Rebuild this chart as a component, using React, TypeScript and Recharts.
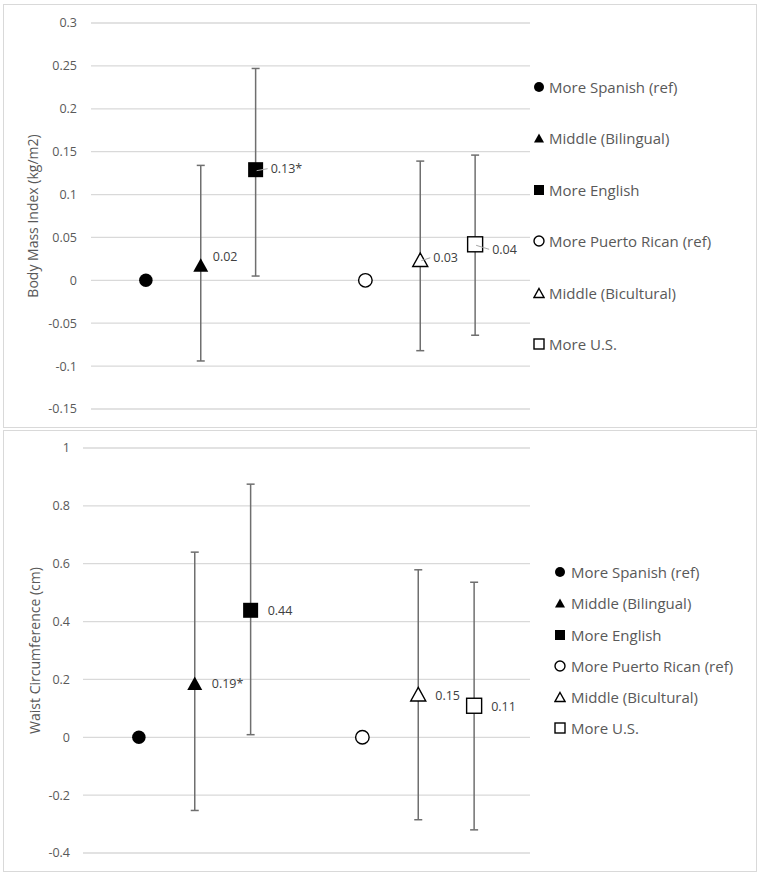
import React from "react";
import { ScatterChart, Scatter, XAxis, YAxis, CartesianGrid, ErrorBar, Legend } from "recharts";

// ---------- data ----------
const categories = [
  "More Spanish (ref)",
  "Middle (Bilingual)",
  "More English",
  "More Puerto Rican (ref)",
  "Middle (Bicultural)",
  "More U.S.",
];
const categoryX = [1, 2, 3, 5, 6, 7];

const bmiEstimate = [0, 0.018, 0.129, 0, 0.024, 0.042];
const bmiLower = [null, -0.094, 0.005, null, -0.082, -0.064];
const bmiUpper = [null, 0.134, 0.247, null, 0.139, 0.146];
const bmiLabels = ["", "0.02", "0.13*", "", "0.03", "0.04"];
const bmiTicks = [-0.15, -0.1, -0.05, 0, 0.05, 0.1, 0.15, 0.2, 0.25, 0.3];

const wcEstimate = [0, 0.187, 0.439, 0, 0.149, 0.109];
const wcLower = [null, -0.253, 0.009, null, -0.285, -0.32];
const wcUpper = [null, 0.64, 0.875, null, 0.579, 0.536];
const wcLabels = ["", "0.19*", "0.44", "", "0.15", "0.11"];
const wcTicks = [-0.4, -0.2, 0, 0.2, 0.4, 0.6, 0.8, 1];

// ---------- styles ----------
const markerKinds = ["circle", "triangle", "square", "circle", "triangle", "square"];
const markerFilled = [true, true, true, false, false, false];
const bmiLabelOffsets = [[0, 0], [12, -8], [15, -1], [0, 0], [13, -2], [17, 5]];
const bmiLeader = [false, false, true, false, true, true];
const wcLabelOffsets = [[0, 0], [17, 0], [17, 0], [0, 0], [17, 1], [17, 1]];
const wcLeader = [false, false, false, false, false, false];

const FONT = "'Open Sans', sans-serif";
const GRID = "#d9d9d9";
const TEXT = "#595959";

function Marker({ kind, filled, cx, cy, size }: any) {
  const fill = filled ? "#000" : "#fff";
  const stroke = "#000";
  const sw = filled ? 0 : 1.4;
  if (kind === "circle") {
    return <circle cx={cx} cy={cy} r={size / 2} fill={fill} stroke={stroke} strokeWidth={sw} />;
  }
  if (kind === "square") {
    const s = size;
    return <rect x={cx - s / 2} y={cy - s / 2} width={s} height={s} fill={fill} stroke={stroke} strokeWidth={sw} />;
  }
  const h = size * 0.9;
  const w = size;
  return (
    <polygon
      points={`${cx},${cy - h / 2} ${cx + w / 2},${cy + h / 2} ${cx - w / 2},${cy + h / 2}`}
      fill={fill}
      stroke={stroke}
      strokeWidth={sw}
      strokeLinejoin="miter"
    />
  );
}

function makeShape(i: number, labels: string[], offsets: number[][], leaders: boolean[], size: number) {
  return (props: any) => {
    const { cx, cy } = props;
    if (cx == null || cy == null) return <g />;
    const [dx, dy] = offsets[i];
    const lx = cx + dx;
    const ly = cy + dy;
    return (
      <g>
        <Marker kind={markerKinds[i]} filled={markerFilled[i]} cx={cx} cy={cy} size={size} />
        {leaders[i] && labels[i] ? (
          <line x1={cx + 1} y1={cy + 1} x2={lx - 3} y2={ly} stroke="#a6a6a6" strokeWidth={1} />
        ) : null}
        {labels[i] ? (
          <text x={lx} y={ly} dominantBaseline="central" fontSize={12.5} fill="#404040" fontFamily={FONT}>
            {labels[i]}
          </text>
        ) : null}
      </g>
    );
  };
}

function LegendContent({ spacing, gap }: { spacing: number; gap: number }) {
  return (
    <div style={{ fontFamily: FONT, fontSize: 15, color: TEXT }}>
      {categories.map((c, i) => (
        <div key={c} style={{ height: spacing, display: "flex", alignItems: "center", whiteSpace: "nowrap" }}>
          <svg width={12} height={12} style={{ marginRight: gap, flex: "none" }}>
            <Marker kind={markerKinds[i]} filled={markerFilled[i]} cx={6} cy={6} size={markerKinds[i] === "circle" ? 10 : 10} />
          </svg>
          <span>{c}</span>
        </div>
      ))}
    </div>
  );
}

function buildSeries(est: number[], lo: (number | null)[], hi: (number | null)[]) {
  return categories.map((name, i) => {
    const row: any = { x: categoryX[i], y: est[i] };
    if (lo[i] != null && hi[i] != null) {
      row.err = [est[i] - (lo[i] as number), (hi[i] as number) - est[i]];
    }
    return { name, data: [row], hasErr: row.err != null };
  });
}

function Panel(props: any) {
  const {
    width, height, margin, yWidth, tickMargin, domain, ticks, title, series,
    labels, offsets, leaders, legendLeft, legendTop, legendSpacing, legendGap,
  } = props;
  return (
    <ScatterChart width={width} height={height} margin={margin}>
      <CartesianGrid horizontal vertical={false} stroke={GRID} strokeWidth={1.3} />
      <XAxis type="number" dataKey="x" domain={[0, 8]} hide />
      <YAxis
        type="number"
        dataKey="y"
        domain={domain}
        ticks={ticks}
        interval={0}
        width={yWidth}
        axisLine={false}
        tickLine={false}
        tickMargin={tickMargin}
        tick={{ fill: TEXT, fontSize: 12.5, fontFamily: FONT }}
        tickFormatter={(v: number) => String(v)}
        allowDataOverflow
        label={{
          value: title,
          angle: -90,
          position: "insideLeft",
          offset: 5,
          style: { textAnchor: "middle", fill: TEXT, fontSize: 14, fontFamily: FONT },
        }}
      />
      <Legend
        layout="vertical"
        align="center"
        verticalAlign="middle"
        wrapperStyle={{ left: legendLeft, top: legendTop, width: 220 }}
        content={() => <LegendContent spacing={legendSpacing} gap={legendGap} />}
      />
      {series.map((s: any, i: number) => (
        <Scatter
          key={s.name}
          name={s.name}
          data={s.data}
          isAnimationActive={false}
          shape={makeShape(i, labels, offsets, leaders, i === 0 || i === 3 ? 13.5 : 15)}
        >
          {s.hasErr ? (
            <ErrorBar dataKey="err" direction="y" width={4} stroke="#6f6f6f" strokeWidth={1.5} />
          ) : null}
        </Scatter>
      ))}
    </ScatterChart>
  );
}

export default function App() {
  const bmiSeries = buildSeries(bmiEstimate, bmiLower, bmiUpper);
  const wcSeries = buildSeries(wcEstimate, wcLower, wcUpper);
  const boxStyle: React.CSSProperties = {
    position: "absolute",
    left: 3,
    width: 754,
    boxSizing: "border-box",
    border: "1.5px solid #d9d9d9",
    background: "#fff",
  };
  return (
    <div style={{ position: "absolute", left: 0, top: 0, width: 761, height: 874, background: "#fff" }}>
      <div style={{ ...boxStyle, top: 4, height: 424 }}>
        <Panel
          width={751}
          height={421}
          margin={{ top: 18, right: 225, bottom: 17, left: 24 }}
          yWidth={63}
          tickMargin={8}
          domain={[-0.15, 0.3]}
          ticks={bmiTicks}
          title="Body Mass Index (kg/m2)"
          series={bmiSeries}
          labels={bmiLabels}
          offsets={bmiLabelOffsets}
          leaders={bmiLeader}
          legendLeft={529}
          legendTop={82 - 51.4 / 2}
          legendSpacing={51.4}
          legendGap={4}
        />
      </div>
      <div style={{ ...boxStyle, top: 430, height: 442 }}>
        <Panel
          width={751}
          height={439}
          margin={{ top: 17, right: 225, bottom: 17, left: 26 }}
          yWidth={53}
          tickMargin={7}
          domain={[-0.4, 1]}
          ticks={wcTicks}
          title="Waist Circumference (cm)"
          series={wcSeries}
          labels={wcLabels}
          offsets={wcLabelOffsets}
          leaders={wcLeader}
          legendLeft={550}
          legendTop={141.3 - 31.2 / 2}
          legendSpacing={31.2}
          legendGap={5}
        />
      </div>
    </div>
  );
}
